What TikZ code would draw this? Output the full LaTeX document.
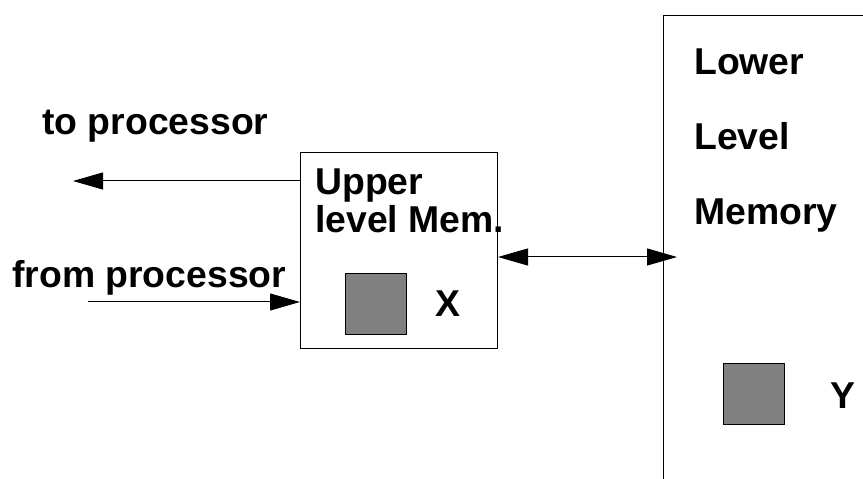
\documentclass[tikz,border=0pt]{standalone}
\usepackage{fontspec}
\setmainfont{Liberation Sans}
\usetikzlibrary{arrows.meta}
\begin{document}
\begin{tikzpicture}[x=1bp,y=-1bp,
  lbl/.style={anchor=base west,inner sep=0pt,font=\fontsize{37.5}{42}\selectfont\bfseries},
  box/.style={draw,line width=1bp},
  cell/.style={draw,line width=1bp,fill=black!50},
  conn/.style={line width=1bp,-{Triangle[length=30bp,width=17bp]}},
  dconn/.style={line width=1bp,{Triangle[length=30bp,width=17bp]}-{Triangle[length=30bp,width=17bp]}}]
\useasboundingbox (0,0) rectangle (863,479);
% upper level memory box
\node[box,minimum width=197bp,minimum height=196bp,inner sep=0pt,anchor=north west] (up) at (300,152) {};
\node[cell,minimum size=61bp,inner sep=0pt,anchor=north west] (x) at (345,273) {};
\node[lbl] (xl) at (435,317) {X};
\node[lbl] (u1) at (315,195) {Upper};
\node[lbl] (u2) at (315,233) {level Mem.};
% lower level memory (partially visible)
\coordinate (lt) at (663,16);
\coordinate (ltr) at (863,16);
\coordinate (lb) at (663,479);
\draw[line width=1bp] (ltr) -- (lt) -- (lb);
\node[lbl] (l1) at (694,75) {Lower};
\node[lbl] (l2) at (694,150) {Level};
\node[lbl] (l3) at (694,225) {Memory};
\node[cell,minimum size=61bp,inner sep=0pt,anchor=north west] (y) at (723,363) {};
\node[lbl] (yl) at (830,408) {Y};
% processor connections
\node[lbl] (tp) at (42,135) {to processor};
\node[lbl] (fp) at (12,288) {from processor};
\coordinate (tpend) at (73,181);
\coordinate (fpstart) at (88,302);
\draw[conn] (up.west |- tpend) -- (tpend);
\draw[conn] (fpstart) -- (up.west |- fpstart);
% between memories
\coordinate (lmarr) at (677,257);
\draw[dconn] (up.east |- lmarr) -- (lmarr);
\end{tikzpicture}
\end{document}
